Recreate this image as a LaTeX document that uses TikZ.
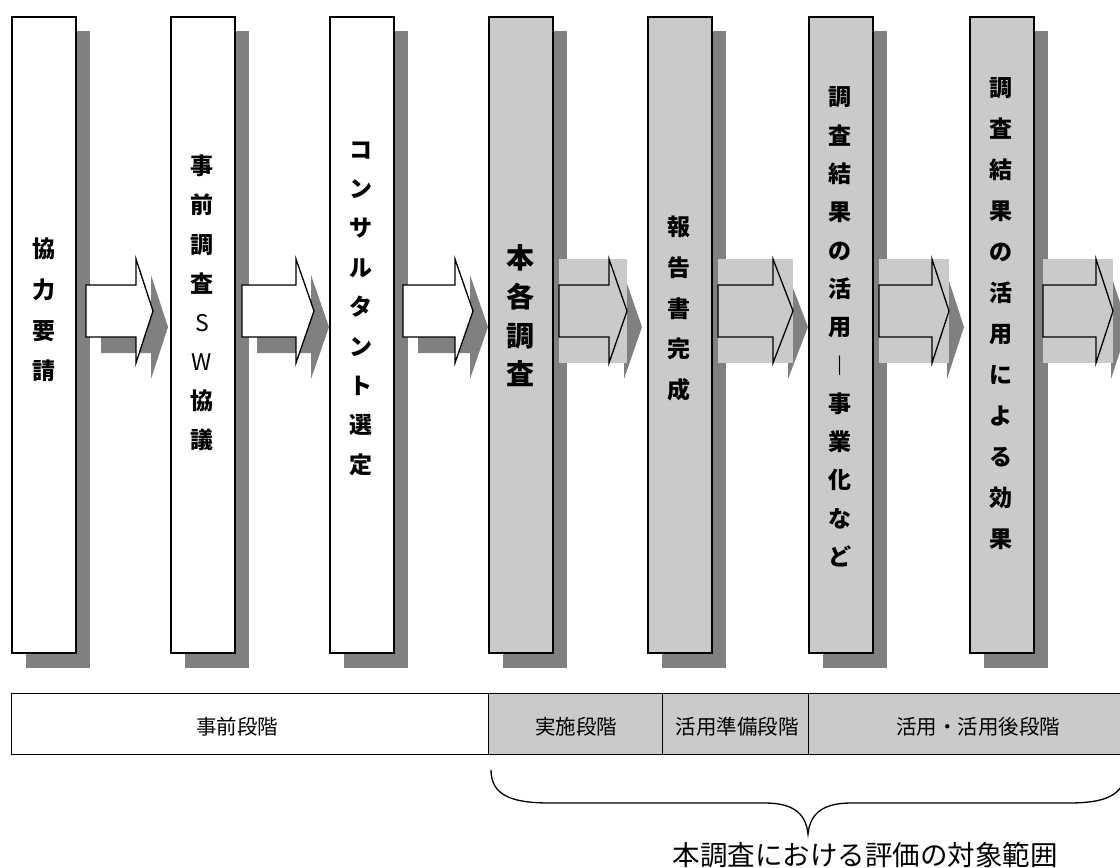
\documentclass[tikz,border=0pt]{standalone}
\usepackage{fontspec}
\setmainfont{Noto Sans CJK JP}
\definecolor{pat}{RGB}{202,202,202}
\definecolor{shd}{RGB}{128,128,128}
\tikzset{
  stagebox/.style={draw=black,line width=1.5pt,minimum width=64pt,minimum height=636pt,inner sep=0pt,anchor=north west},
  plainbox/.style={stagebox,fill=white},
  patbox/.style={stagebox,fill=pat},
  vlabel/.style={align=center,inner sep=0pt},
  arrowline/.style={draw=black,line width=1.3pt,line join=miter},
  barcell/.style={draw=black,line width=1.3pt,minimum height=61pt,inner sep=0pt,anchor=north west},
  bartext/.style={inner sep=0pt,font=\fontsize{20.5}{20.5}\selectfont},
  bracestyle/.style={draw=black,line width=1.3pt},
}
\begin{document}
\begin{tikzpicture}[x=1pt,y=-1pt]
\useasboundingbox (0,0) rectangle (1120,868);
% box shadows
\foreach \x in {11,170,329,488,647,808,969}
  \fill[shd] (\x+15,31) rectangle ++(64,637);
% arrow shadows
\foreach \L/\H/\T in {86/136/153,242/296/314,403/455/473,559/609/627,718/773/793,879/932/949,1043/1096/1113}
  \fill[shd] (\L+15,301) -- (\H+15,301) -- (\H+15,275) -- (\T+15,327) -- (\H+15,379) -- (\H+15,353) -- (\L+15,353) -- cycle;
% boxes
\node[plainbox] (b1) at (11,16) {};
\node[plainbox] (b2) at (170,16) {};
\node[plainbox] (b3) at (329,16) {};
\node[patbox] (b4) at (488,16) {};
\node[patbox] (b5) at (647,16) {};
\node[patbox] (b6) at (808,16) {};
\node[patbox] (b7) at (969,16) {};
% arrows, white
\foreach \L/\H/\T in {86/136/153,242/296/314,403/455/473}
  \draw[arrowline,fill=white] (\L,285) -- (\H,285) -- (\H,259) -- (\T,311) -- (\H,363) -- (\H,337) -- (\L,337) -- cycle;
% arrows, patterned
\foreach \L/\H/\T in {559/609/627,718/773/793,879/932/949,1043/1096/1113}{
  \fill[pat] (\L,259) rectangle (\T,363);
  \draw[arrowline] (\L,285) -- (\H,285) -- (\H,259) -- (\T,311) -- (\H,363) -- (\H,337) -- (\L,337) -- cycle;
}
% box labels
\node[vlabel,font=\fontsize{23}{40.7}\selectfont\bfseries] (l1) at (43.5,310) {協\\力\\要\\請};
\node[vlabel,font=\fontsize{23}{39.1}\selectfont\bfseries] (l2) at (202,303) {事\\前\\調\\査\\{\mdseries S}\\{\mdseries W}\\協\\議};
\node[vlabel,font=\fontsize{23}{39.4}\selectfont\bfseries] (l3) at (361,308.5) {コ\\ン\\サ\\ル\\タ\\ン\\ト\\選\\定};
\node[vlabel,font=\fontsize{28}{38.7}\selectfont\bfseries] (l4) at (520,316) {本\\各\\調\\査};
\node[vlabel,font=\fontsize{23}{40.8}\selectfont\bfseries] (l5) at (679,308.5) {報\\告\\書\\完\\成};
\node[vlabel,font=\fontsize{23}{38.3}\selectfont\bfseries] (l6) at (840,327) {調\\査\\結\\果\\の\\活\\用\\︱\\事\\業\\化\\な\\ど};
\node[vlabel,font=\fontsize{23}{41}\selectfont\bfseries] (l7) at (1001,313.5) {調\\査\\結\\果\\の\\活\\用\\に\\よ\\る\\効\\果};
% stage bar
\node[barcell,fill=white,minimum width=477pt] (c1) at (11,693) {};
\node[barcell,fill=pat,minimum width=174pt] (c2) at (488,693) {};
\node[barcell,fill=pat,minimum width=146pt] (c3) at (662,693) {};
\node[barcell,fill=pat,minimum width=322pt] (c4) at (808,693) {};
\node[bartext] (s1) at (237,727) {事前段階};
\node[bartext] (s2) at (576,727) {実施段階};
\node[bartext] (s3) at (737,727) {活用準備段階};
\node[bartext] (s4) at (978,727) {活用・活用後段階};
% brace
\draw[bracestyle] (491,770) .. controls (491,797) and (515,803) .. (550,803) -- (765,803)
  .. controls (795,803) and (806,815) .. (808,834)
  .. controls (810,815) and (821,803) .. (851,803) -- (1068,803)
  .. controls (1103,803) and (1124,797) .. (1127,770);
\node[inner sep=0pt,font=\fontsize{27.5}{27.5}\selectfont] (scope) at (865,855) {本調査における評価の対象範囲};
\end{tikzpicture}
\end{document}
